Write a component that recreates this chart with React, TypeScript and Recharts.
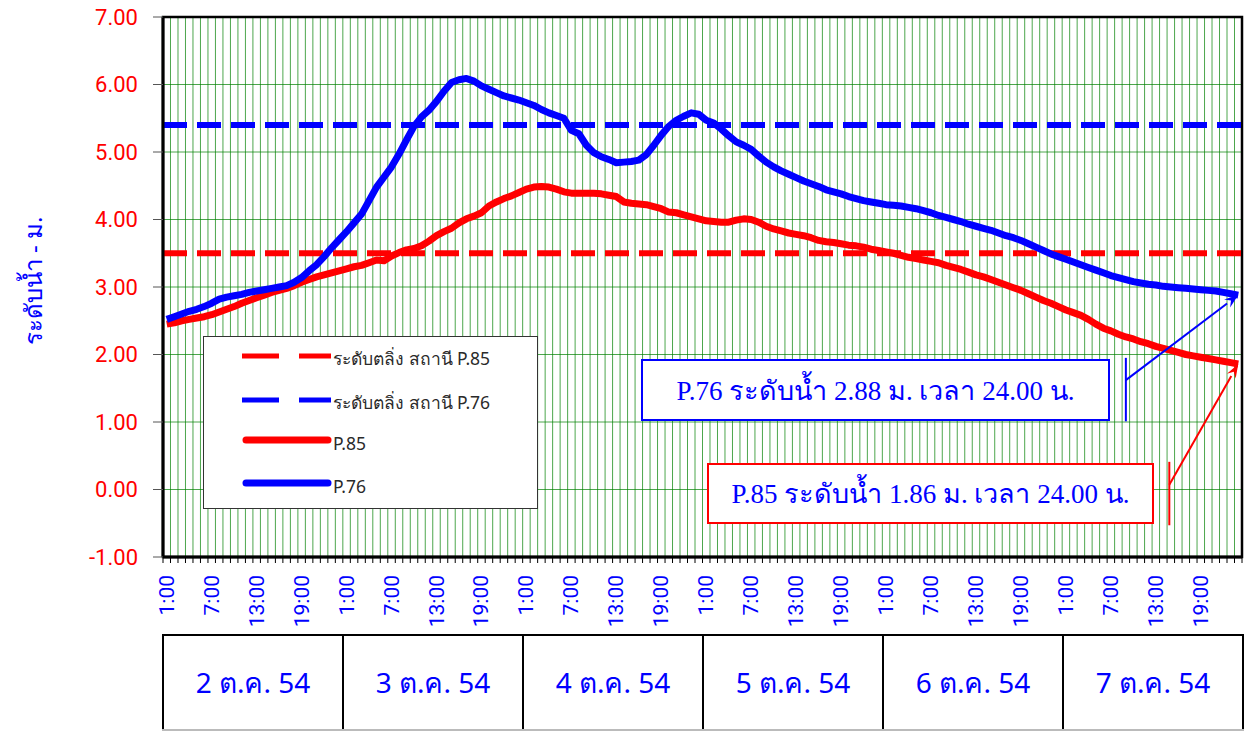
import React from "react";
import {
  LineChart,
  Line,
  XAxis,
  YAxis,
  CartesianGrid,
  ReferenceLine,
  ReferenceArea,
  Legend,
  Label,
} from "recharts";

const days = ["2 ต.ค. 54", "3 ต.ค. 54", "4 ต.ค. 54", "5 ต.ค. 54", "6 ต.ค. 54", "7 ต.ค. 54"];

const hourLabels = [
  "1:00", "2:00", "3:00", "4:00", "5:00", "6:00", "7:00", "8:00", "9:00", "10:00", "11:00", "12:00",
  "13:00", "14:00", "15:00", "16:00", "17:00", "18:00", "19:00", "20:00", "21:00", "22:00", "23:00", "24:00",
];

// hourly water level, 2-7 Oct
const p85 = [
  2.45, 2.47, 2.5, 2.52, 2.54, 2.56, 2.59, 2.63, 2.67, 2.71, 2.76, 2.8, 2.84, 2.88, 2.92, 2.95, 2.98, 3.02, 3.07, 3.11, 3.15, 3.18, 3.21, 3.24,
  3.27, 3.3, 3.32, 3.36, 3.4, 3.39, 3.46, 3.51, 3.55, 3.57, 3.61, 3.68, 3.76, 3.82, 3.87, 3.95, 4.01, 4.05, 4.1, 4.2, 4.26, 4.31, 4.35, 4.4,
  4.45, 4.48, 4.49, 4.48, 4.45, 4.41, 4.39, 4.39, 4.39, 4.39, 4.38, 4.36, 4.34, 4.26, 4.24, 4.23, 4.22, 4.19, 4.16, 4.11, 4.1, 4.07, 4.04, 4.01,
  3.98, 3.97, 3.96, 3.96, 3.99, 4.01, 4.0, 3.96, 3.9, 3.86, 3.83, 3.8, 3.78, 3.76, 3.73, 3.69, 3.67, 3.66, 3.64, 3.62, 3.61, 3.59, 3.56, 3.54,
  3.52, 3.5, 3.47, 3.44, 3.42, 3.4, 3.38, 3.36, 3.32, 3.29, 3.26, 3.22, 3.18, 3.15, 3.11, 3.07, 3.03, 2.99, 2.95, 2.9, 2.85, 2.8, 2.76, 2.71,
  2.66, 2.62, 2.58, 2.52, 2.45, 2.39, 2.35, 2.3, 2.26, 2.23, 2.19, 2.16, 2.12, 2.09, 2.06, 2.03, 2.0, 1.98, 1.96, 1.94, 1.92, 1.9, 1.88, 1.86,
];

const p76 = [
  2.52, 2.56, 2.6, 2.64, 2.67, 2.71, 2.76, 2.82, 2.85, 2.87, 2.89, 2.92, 2.94, 2.96, 2.98, 3.0, 3.02, 3.07, 3.14, 3.24, 3.33, 3.45, 3.58, 3.7,
  3.82, 3.95, 4.08, 4.28, 4.48, 4.63, 4.78, 4.97, 5.18, 5.38, 5.52, 5.62, 5.75, 5.9, 6.03, 6.07, 6.09, 6.05, 5.98, 5.93, 5.88, 5.83, 5.8, 5.77,
  5.73, 5.69, 5.63, 5.58, 5.54, 5.5, 5.32, 5.27, 5.1, 4.99, 4.93, 4.89, 4.84, 4.85, 4.86, 4.88, 4.96, 5.1, 5.25, 5.38, 5.47, 5.53, 5.58, 5.56,
  5.47, 5.43, 5.34, 5.24, 5.15, 5.1, 5.04, 4.94, 4.85, 4.78, 4.72, 4.67, 4.62, 4.57, 4.53, 4.49, 4.44, 4.41, 4.38, 4.34, 4.31, 4.28, 4.26, 4.24,
  4.22, 4.21, 4.2, 4.18, 4.16, 4.13, 4.1, 4.06, 4.03, 4.0, 3.97, 3.93, 3.9, 3.87, 3.84, 3.8, 3.76, 3.73, 3.69, 3.64, 3.59, 3.54, 3.49, 3.45,
  3.41, 3.37, 3.33, 3.29, 3.25, 3.21, 3.17, 3.14, 3.11, 3.08, 3.06, 3.04, 3.03, 3.01, 3.0, 2.99, 2.98, 2.97, 2.96, 2.95, 2.94, 2.92, 2.9, 2.88,
];

const bankP85 = 3.5;
const bankP76 = 5.4;
const yTicks = [-1, 0, 1, 2, 3, 4, 5, 6, 7];

const RED = "#ff0000";
const BLUE = "#0000ff";
const HOURS = p85.length;
const HALF_SLOT = 3.75; // half of one hour column in px

const data = p85.map((v, i) => ({
  pos: i + 0.5,
  hour: hourLabels[i % 24],
  day: days[Math.floor(i / 24)],
  p85: v,
  p76: p76[i],
}));

const xTicks = Array.from({ length: HOURS + 1 }, (_, i) => i);

function HourTick({ x, y, payload }: any) {
  const i = payload.value;
  if (i >= HOURS || i % 6 !== 0) return null;
  return (
    <text
      transform={`translate(${x + HALF_SLOT},${y}) rotate(-90)`}
      textAnchor="end"
      dominantBaseline="central"
      fill={BLUE}
      fontSize={21}
      fontFamily="Roboto, sans-serif"
    >
      {hourLabels[i % 24]}
    </text>
  );
}

function ArrowShape(props: any) {
  const { x1, y1, x2, y2, stroke } = props;
  const a = Math.atan2(y2 - y1, x2 - x1);
  const len = 14;
  const w = 5;
  const bx = x2 - len * Math.cos(a);
  const by = y2 - len * Math.sin(a);
  const pts = [
    `${x2},${y2}`,
    `${bx + w * Math.sin(a)},${by - w * Math.cos(a)}`,
    `${bx + 0.35 * len * Math.cos(a)},${by + 0.35 * len * Math.sin(a)}`,
    `${bx - w * Math.sin(a)},${by + w * Math.cos(a)}`,
  ].join(" ");
  return (
    <g>
      <line x1={x1} y1={y1} x2={bx} y2={by} stroke={stroke} strokeWidth={2} />
      <polygon points={pts} fill={stroke} />
    </g>
  );
}

const legendItems = [
  { label: "ระดับตลิ่ง สถานี P.85", color: RED, dashed: true },
  { label: "ระดับตลิ่ง สถานี P.76", color: BLUE, dashed: true },
  { label: "P.85", color: RED, dashed: false },
  { label: "P.76", color: BLUE, dashed: false },
];
const legendRowTop = [19, 63, 103, 146];

function LegendBox() {
  return (
    <div
      style={{
        position: "relative",
        width: 335,
        height: 173,
        boxSizing: "border-box",
        border: "1px solid #333",
        background: "#fff",
      }}
    >
      {legendItems.map((it, k) => (
        <div
          key={it.label}
          style={{
            position: "absolute",
            left: 37,
            top: legendRowTop[k] - 12,
            height: 24,
            display: "flex",
            alignItems: "center",
          }}
        >
          <svg width={92} height={10}>
            <line
              x1={it.dashed ? 1 : 5}
              y1={5}
              x2={it.dashed ? 90 : 87}
              y2={5}
              stroke={it.color}
              strokeWidth={it.dashed ? 5 : 7}
              strokeLinecap={it.dashed ? "butt" : "round"}
              strokeDasharray={it.dashed ? "37 20" : undefined}
            />
          </svg>
          <span
            style={{
              fontFamily: "Tahoma, 'Noto Sans', sans-serif",
              fontSize: 17.5,
              color: "#2a2a2a",
              marginTop: 6,
              whiteSpace: "nowrap",
            }}
          >
            {it.label}
          </span>
        </div>
      ))}
    </div>
  );
}

const noteStyle: React.CSSProperties = {
  position: "absolute",
  boxSizing: "border-box",
  background: "#fff",
  display: "flex",
  alignItems: "center",
  justifyContent: "center",
  fontFamily: "'Liberation Serif', serif",
  fontSize: 27,
  color: BLUE,
  whiteSpace: "nowrap",
};

export default function App() {
  return (
    <div style={{ position: "absolute", left: 0, top: 0, width: 1246, height: 731, background: "#fff" }}>
      <LineChart width={1246} height={731} data={data} margin={{ top: 17, right: 4, left: 0, bottom: 0 }}>
        <CartesianGrid stroke="#008000" strokeOpacity={0.7} />
        <XAxis
          type="number"
          dataKey="pos"
          domain={[0, HOURS]}
          ticks={xTicks}
          interval={0}
          height={174}
          tickSize={6}
          tickMargin={12}
          tick={<HourTick />}
          tickLine={{ stroke: "#000" }}
          axisLine={{ stroke: "#000", strokeWidth: 3 }}
        />
        <YAxis
          type="number"
          domain={[-1, 7]}
          ticks={yTicks}
          interval={0}
          width={163}
          tickSize={10}
          tickMargin={15}
          tickFormatter={(v: number) => v.toFixed(2)}
          tick={{ fill: RED, fontSize: 22, fontFamily: "Roboto, sans-serif" }}
          tickLine={{ stroke: "#555" }}
          axisLine={{ stroke: "#000", strokeWidth: 3 }}
        >
          <Label
            content={() => (
              <text
                transform="translate(32,281) rotate(-90)"
                textAnchor="middle"
                dominantBaseline="central"
                fill={BLUE}
                fontSize={24}
                fontFamily="Tahoma, 'Noto Sans', sans-serif"
              >
                ระดับน้ำ - ม.
              </text>
            )}
          />
        </YAxis>
        <ReferenceArea x1={0} x2={HOURS} y1={-1} y2={7} fill="none" stroke="#000" strokeWidth={2.5} />
        <ReferenceLine y={bankP85} stroke={RED} strokeWidth={6} strokeDasharray="24 10" />
        <ReferenceLine y={bankP76} stroke={BLUE} strokeWidth={6} strokeDasharray="24 10" />
        <Line
          type="linear"
          dataKey="p85"
          stroke={RED}
          strokeWidth={7}
          strokeLinejoin="round"
          dot={false}
          isAnimationActive={false}
        />
        <Line
          type="linear"
          dataKey="p76"
          stroke={BLUE}
          strokeWidth={7}
          strokeLinejoin="round"
          dot={false}
          isAnimationActive={false}
        />
        <ReferenceLine
          segment={[{ x: 128.5, y: 1.95 }, { x: 128.5, y: 1.01 }]}
          stroke={BLUE}
          strokeWidth={2}
        />
        <ReferenceLine
          segment={[{ x: 128.5, y: 1.62 }, { x: HOURS - 0.5, y: p76[HOURS - 1] }]}
          stroke={BLUE}
          shape={<ArrowShape />}
        />
        <ReferenceLine
          segment={[{ x: 134.3, y: 0.41 }, { x: 134.3, y: -0.53 }]}
          stroke={RED}
          strokeWidth={2}
        />
        <ReferenceLine
          segment={[{ x: 134.3, y: 0.07 }, { x: HOURS - 0.5, y: p85[HOURS - 1] }]}
          stroke={RED}
          shape={<ArrowShape />}
        />
        <Legend
          layout="vertical"
          align="center"
          verticalAlign="middle"
          wrapperStyle={{ position: "absolute", left: 203, top: 336, width: 335, height: 173 }}
          content={() => <LegendBox />}
        />
      </LineChart>

      <div style={{ ...noteStyle, left: 641, top: 359, width: 469, height: 62, border: `2px solid ${BLUE}` }}>
        {`P.76 ระดับน้ำ ${p76[HOURS - 1].toFixed(2)} ม. เวลา 24.00 น.`}
      </div>
      <div style={{ ...noteStyle, left: 707, top: 463, width: 447, height: 61, border: `2px solid ${RED}` }}>
        {`P.85 ระดับน้ำ ${p85[HOURS - 1].toFixed(2)} ม. เวลา 24.00 น.`}
      </div>

      <div
        style={{
          position: "absolute",
          left: 162,
          top: 634,
          width: 1082,
          height: 97,
          boxSizing: "border-box",
          borderTop: "2px solid #000",
          borderBottom: "2px solid #bbb",
          display: "flex",
        }}
      >
        {days.map((d, k) => (
          <div
            key={d}
            style={{
              flex: 1,
              borderLeft: "2px solid #000",
              borderRight: k === days.length - 1 ? "2px solid #000" : undefined,
              display: "flex",
              alignItems: "center",
              justifyContent: "center",
              fontFamily: "Tahoma, 'Noto Sans', sans-serif",
              fontSize: 28,
              color: BLUE,
            }}
          >
            {d}
          </div>
        ))}
      </div>
    </div>
  );
}
